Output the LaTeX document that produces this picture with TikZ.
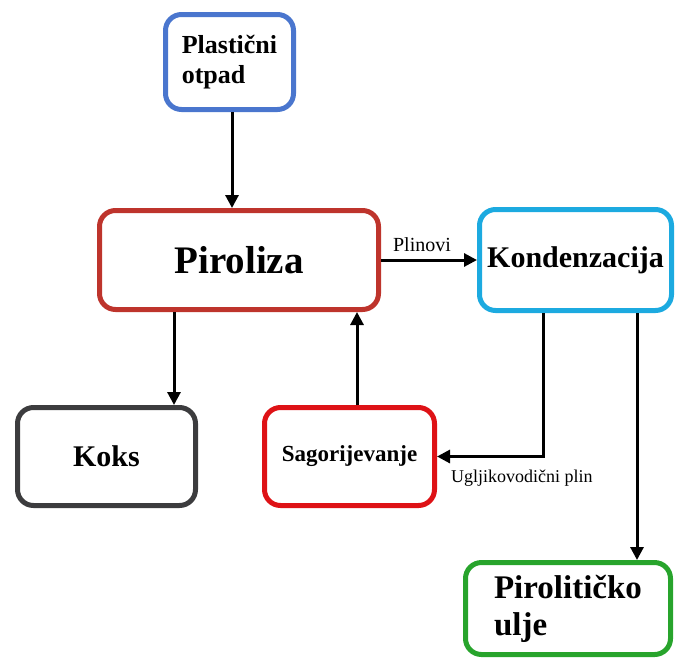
\documentclass[tikz,border=0pt]{standalone}
\usepackage{fontspec}
\setmainfont{Liberation Serif}
\usetikzlibrary{arrows.meta}
\tikzset{
every picture/.style={
line width=3pt
}}
\definecolor{plava}{RGB}{74,118,206}
\definecolor{tamnocrvena}{RGB}{190,52,44}
\definecolor{cijan}{RGB}{28,170,224}
\definecolor{siva}{RGB}{60,60,62}
\definecolor{crvena}{RGB}{222,18,22}
\definecolor{zelena}{RGB}{40,164,44}

\begin{document}
\begin{tikzpicture}[x=1pt, y=-1pt,
block/.style = {rectangle, draw, line width=5pt, rounded corners=16pt, inner sep=0pt, align=left, font=\bfseries},
strelica/.style = {-{Triangle[length=13pt, width=13pt]}, line width=3pt}]

\useasboundingbox (0,0) rectangle (676,659);

\node[block, draw=plava, minimum width=128, minimum height=95, font=\bfseries\fontsize{26}{30}\selectfont] (otpad) at (229.5,62) {Plastični\\otpad};
\node[block, draw=tamnocrvena, minimum width=279, minimum height=99, font=\bfseries\fontsize{39}{44}\selectfont] (piroliza) at (239,260) {Piroliza};
\node[block, draw=cijan, minimum width=192, minimum height=101, font=\bfseries\fontsize{30}{34}\selectfont] (kond) at (575.5,260) {Kondenzacija};
\node[block, draw=siva, minimum width=178, minimum height=98, font=\bfseries\fontsize{30}{34}\selectfont] (koks) at (106.5,456.5) {Koks};
\node[block, draw=crvena, minimum width=170, minimum height=98, font=\bfseries\fontsize{23}{26}\selectfont] (sagor) at (349.5,456.5) {Sagorijevanje};
\node[block, draw=zelena, minimum width=205, minimum height=92, font=\bfseries\fontsize{33}{37}\selectfont] (ulje) at (568,608.5) {\raisebox{-5pt}{Pirolitičko}\\\raisebox{-5pt}{ulje}};

\coordinate (kx) at (174,0);
\coordinate (sx) at (357,0);
\coordinate (ux1) at (543,0);
\coordinate (ux2) at (637,0);

\draw [strelica] (otpad.south -| 232,0) -- (piroliza.north -| 232,0);
\draw [strelica] (piroliza.east) -- node[above=3pt, xshift=-7pt, font=\fontsize{20}{22}\selectfont] (plinovi) {Plinovi} (kond.west);
\draw [strelica] (piroliza.south -| kx) -- (koks.north -| kx);
\draw [strelica] (sagor.north -| sx) -- (piroliza.south -| sx);
\draw [strelica] (kond.south -| ux1) |- node[pos=0.6, below=9pt, font=\fontsize{18}{20}\selectfont] (plin) {Ugljikovodični plin} (sagor.east);
\draw [strelica] (kond.south -| ux2) -- (ulje.north -| ux2);
\end{tikzpicture}
\end{document}
